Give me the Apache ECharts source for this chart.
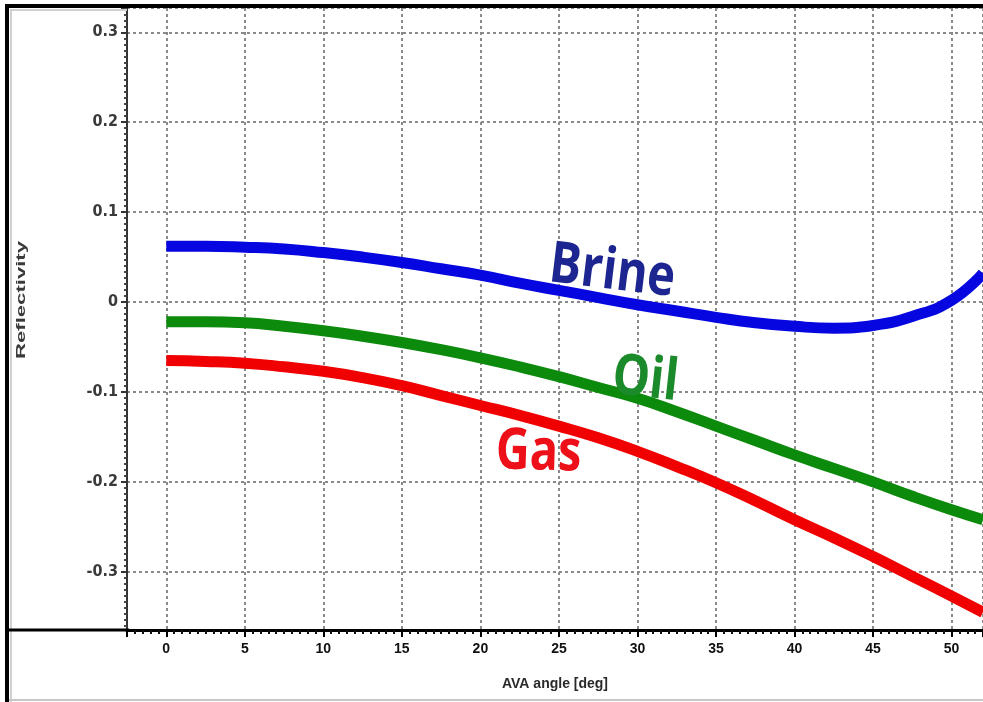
<!DOCTYPE html>
<html>
<head>
<meta charset="utf-8">
<script src="https://cdn.jsdelivr.net/npm/echarts@6/dist/echarts.min.js"></script>
<style>
html,body{margin:0;padding:0;background:#fff;}
#chart{width:983px;height:702px;}
</style>
</head>
<body>
<div id="chart"></div>
<script>
// AVA angle (deg)
const angles = [0, 2.5, 5, 7.5, 10, 12.5, 15, 17.5, 20, 22.5, 25, 27.5, 30, 32.5, 35, 37.5, 40, 42.5, 45, 47.5, 50, 52];
// Reflectivity values
const brine = [0.062, 0.062, 0.061, 0.059, 0.055, 0.050, 0.044, 0.037, 0.030, 0.021, 0.013, 0.005, -0.003, -0.010, -0.017, -0.023, -0.027, -0.029, -0.026, -0.016, 0.002, 0.032];
const oil   = [-0.022, -0.022, -0.023, -0.027, -0.032, -0.038, -0.045, -0.053, -0.062, -0.072, -0.083, -0.095, -0.107, -0.122, -0.138, -0.154, -0.170, -0.185, -0.200, -0.216, -0.231, -0.242];
const gas   = [-0.065, -0.066, -0.068, -0.072, -0.077, -0.084, -0.093, -0.104, -0.115, -0.126, -0.138, -0.151, -0.166, -0.183, -0.201, -0.221, -0.242, -0.262, -0.283, -0.305, -0.327, -0.345];
const seriesNames = ['Brine', 'Oil', 'Gas'];
// label anchors in data space [angle, reflectivity]
const labelAnchors = [[28.4, 0.033], [30.5, -0.087], [23.7, -0.168]];

const xAxisName = 'AVA angle [deg]';
const yAxisName = 'Reflectivity';

const lineColors = ['#0606e0', '#0b8a0b', '#f00000'];
const textColors = ['#1c2590', '#1a8a2a', '#ee1018'];
const textRot = [-0.12, -0.11, -0.03];

const zip = (xs, ys) => xs.map((x, i) => [x, ys[i]]);

const chart = echarts.init(document.getElementById('chart'), null, {renderer: 'canvas'});

const option = {
  animation: false,
  backgroundColor: '#fff',
  grid: {left: 127, top: 8, right: 0, bottom: 72, containLabel: false},
  xAxis: {
    type: 'value',
    min: -2.5, max: 52,
    minInterval: 5, maxInterval: 5,
    name: xAxisName,
    nameLocation: 'middle',
    nameGap: 47,
    nameTextStyle: {fontFamily: 'Liberation Sans, Arial, sans-serif', fontSize: 14, fontWeight: 'bold', color: '#2a2a2a'},
    axisLine: {show: true, onZero: false, lineStyle: {color: '#000', width: 3}},
    axisTick: {show: true, length: 7, lineStyle: {color: '#000', width: 2}},
    minorTick: {show: true, splitNumber: 10, length: 4, lineStyle: {color: '#111', width: 2}},
    axisLabel: {
      showMinLabel: false, showMaxLabel: false, margin: 12,
      fontFamily: 'Liberation Sans, Arial, sans-serif', fontSize: 14, fontWeight: 'bold', color: '#111',
      formatter: v => (Math.abs(v % 5) < 1e-9 ? String(v) : '')
    },
    splitLine: {show: true, lineStyle: {color: '#8a8a8a', width: 2, type: [3, 3]}},
    minorSplitLine: {show: false}
  },
  yAxis: {
    type: 'value',
    min: -0.3647, max: 0.327,
    minInterval: 0.1, maxInterval: 0.1,
    axisLine: {show: true, onZero: false, lineStyle: {color: '#333', width: 2}},
    axisTick: {show: true, length: 6, lineStyle: {color: '#333', width: 2}},
    minorTick: {show: true, splitNumber: 15, length: 3, lineStyle: {color: '#444', width: 2}},
    axisLabel: {
      showMinLabel: false, showMaxLabel: false, margin: 9,
      fontFamily: '"Liberation Sans Narrow", "DejaVu Sans Condensed", "Liberation Sans", sans-serif',
      fontSize: 16, fontWeight: 'bold', color: '#3a3a3a'
    },
    splitLine: {show: true, lineStyle: {color: '#8a8a8a', width: 2, type: [3, 3]}}
  },
  series: [brine, oil, gas].map((vals, i) => ({
    name: seriesNames[i],
    type: 'line',
    data: zip(angles, vals),
    smooth: 0.5,
    showSymbol: false,
    symbol: 'none',
    clip: true,
    lineStyle: {color: lineColors[i], width: 11, cap: 'butt'},
    z: 3 + (2 - i)
  }))
};
chart.setOption(option);

const graphics = [
  // outer frame
  {type: 'rect', shape: {x: 5, y: 4, width: 4, height: 698}, style: {fill: '#000'}, z: 10},
  {type: 'rect', shape: {x: 5, y: 4, width: 978, height: 4}, style: {fill: '#000'}, z: 10},
  {type: 'rect', shape: {x: 10, y: 9, width: 2, height: 693}, style: {fill: '#d0d0d0'}, z: 10},
  {type: 'rect', shape: {x: 10, y: 9, width: 117, height: 2}, style: {fill: '#d0d0d0'}, z: 10},
  {type: 'rect', shape: {x: 9, y: 699, width: 974, height: 2}, style: {fill: '#c8c8c8'}, z: 10},
  // x-axis line continues left to the frame
  {type: 'rect', shape: {x: 9, y: 628.5, width: 120, height: 3}, style: {fill: '#000'}, z: 10},
  // y-axis title
  {type: 'text', x: 21, y: 300, rotation: Math.PI / 2, scaleX: 1.7, scaleY: 1,
   style: {text: yAxisName, fontFamily: 'Liberation Sans, Arial, sans-serif', fontSize: 13, fontWeight: 'bold', fill: '#3a3a3a', align: 'center', verticalAlign: 'middle'}, z: 10}
];
labelAnchors.forEach((a, i) => {
  const p = chart.convertToPixel({gridIndex: 0}, a);
  graphics.push({
    type: 'text', x: p[0], y: p[1], rotation: textRot[i], scaleX: 0.94, scaleY: 1.15,
    style: {text: seriesNames[i], fontFamily: '"Open Sans", "Noto Sans", sans-serif', fontSize: 50, fontWeight: 'bold', fill: textColors[i], align: 'center', verticalAlign: 'middle'},
    z: 20
  });
});
chart.setOption({graphic: graphics});
</script>
</body>
</html>
